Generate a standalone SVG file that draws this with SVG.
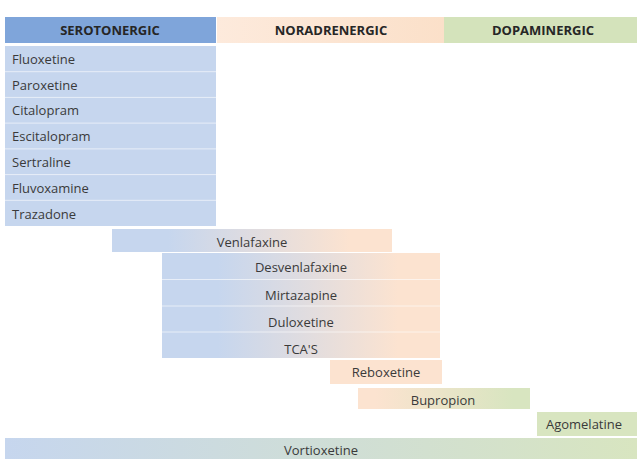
<svg xmlns="http://www.w3.org/2000/svg" width="642" height="461" viewBox="0 0 642 461">
  <defs>
    <linearGradient id="gBP" x1="0" y1="0" x2="1" y2="0">
      <stop offset="0.2" stop-color="#c6d6ee"/>
      <stop offset="0.85" stop-color="#fce3d0"/>
    </linearGradient>
    <linearGradient id="gPG" x1="0" y1="0" x2="1" y2="0">
      <stop offset="0.1" stop-color="#fce3d0"/>
      <stop offset="0.9" stop-color="#d8e5c0"/>
    </linearGradient>
    <linearGradient id="gBG" x1="0" y1="0" x2="1" y2="0">
      <stop offset="0" stop-color="#c6d6ee"/>
      <stop offset="1" stop-color="#d8e5c0"/>
    </linearGradient>
    <linearGradient id="gNor" x1="0" y1="0" x2="1" y2="0">
      <stop offset="0" stop-color="#fdeadc"/>
      <stop offset="1" stop-color="#fbe0c9"/>
    </linearGradient>
  </defs>
  <style>
    .hd{font-family:"Open Sans","Liberation Sans",sans-serif;font-size:13px;font-weight:bold;fill:#262626;text-anchor:middle;dominant-baseline:central}
    .t{font-family:"Open Sans","Liberation Sans",sans-serif;font-size:13px;fill:#3a3a3a;dominant-baseline:central}
    .c{text-anchor:middle}
    .sep{stroke:#ffffff;stroke-width:1;opacity:0.6}
    .blue{fill:#c6d6ee}
  </style>
  <rect x="0" y="0" width="642" height="461" fill="#ffffff"/>

  <g id="header-serotonergic">
    <rect x="5" y="17" width="211" height="26" fill="#7fa5da"/>
    <text class="hd" x="110" y="30">SEROTONERGIC</text>
  </g>
  <g id="header-noradrenergic">
    <rect x="217" y="17" width="227" height="26" fill="url(#gNor)"/>
    <text class="hd" x="331" y="30">NORADRENERGIC</text>
  </g>
  <g id="header-dopaminergic">
    <rect x="444" y="17" width="193" height="26" fill="#d4e3bb"/>
    <text class="hd" x="543" y="30">DOPAMINERGIC</text>
  </g>

  <g id="serotonergic-list">
    <rect class="blue" x="5" y="46" width="211" height="180"/>
    <line class="sep" x1="5" y1="71.7" x2="216" y2="71.7"/>
    <line class="sep" x1="5" y1="97.4" x2="216" y2="97.4"/>
    <line class="sep" x1="5" y1="123.1" x2="216" y2="123.1"/>
    <line class="sep" x1="5" y1="148.9" x2="216" y2="148.9"/>
    <line class="sep" x1="5" y1="174.6" x2="216" y2="174.6"/>
    <line class="sep" x1="5" y1="200.3" x2="216" y2="200.3"/>
    <g id="fluoxetine"><text class="t" x="12" y="58.5">Fluoxetine</text></g>
    <g id="paroxetine"><text class="t" x="12" y="84.5">Paroxetine</text></g>
    <g id="citalopram"><text class="t" x="12" y="110">Citalopram</text></g>
    <g id="escitalopram"><text class="t" x="12" y="136">Escitalopram</text></g>
    <g id="sertraline"><text class="t" x="12" y="162">Sertraline</text></g>
    <g id="fluvoxamine"><text class="t" x="12" y="188">Fluvoxamine</text></g>
    <g id="trazadone"><text class="t" x="12" y="214">Trazadone</text></g>
  </g>

  <g id="venlafaxine">
    <rect x="112" y="229" width="280" height="23" fill="url(#gBP)"/>
    <text class="t c" x="252" y="242">Venlafaxine</text>
  </g>

  <g id="snri-block">
    <rect x="162" y="253" width="278" height="105" fill="url(#gBP)"/>
    <line class="sep" x1="162" y1="279.5" x2="440" y2="279.5"/>
    <line class="sep" x1="162" y1="306" x2="440" y2="306"/>
    <line class="sep" x1="162" y1="332" x2="440" y2="332"/>
    <g id="desvenlafaxine"><text class="t c" x="301" y="267">Desvenlafaxine</text></g>
    <g id="mirtazapine"><text class="t c" x="301" y="295">Mirtazapine</text></g>
    <g id="duloxetine"><text class="t c" x="301" y="322">Duloxetine</text></g>
    <g id="tcas"><text class="t c" x="301" y="349">TCA'S</text></g>
  </g>

  <g id="reboxetine">
    <rect x="330" y="360" width="112" height="24" fill="#fce3d0"/>
    <text class="t c" x="386" y="372">Reboxetine</text>
  </g>

  <g id="bupropion">
    <rect x="358" y="388" width="172" height="21" fill="url(#gPG)"/>
    <text class="t c" x="443" y="399.5">Bupropion</text>
  </g>

  <g id="agomelatine">
    <rect x="537" y="412" width="100" height="24" fill="#d8e5c0"/>
    <text class="t c" x="584" y="424">Agomelatine</text>
  </g>

  <g id="vortioxetine">
    <rect x="5" y="438" width="632" height="21" fill="url(#gBG)"/>
    <text class="t c" x="321" y="449.5">Vortioxetine</text>
  </g>
</svg>
